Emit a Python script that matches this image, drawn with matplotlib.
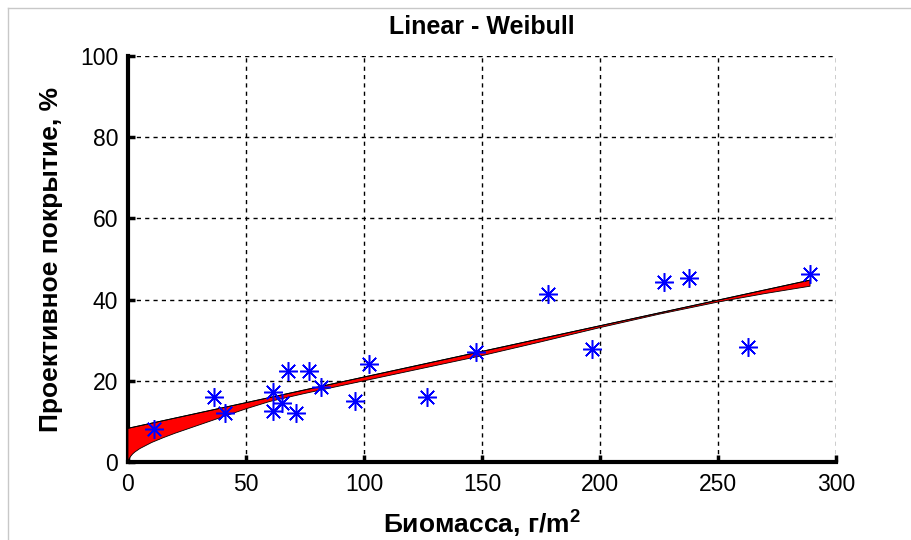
import matplotlib
matplotlib.use("Agg")
import matplotlib.pyplot as plt
from matplotlib.lines import Line2D

plt.rcParams['font.family'] = ['Liberation Sans', 'DejaVu Sans']
plt.rcParams['mathtext.fontset'] = 'custom'
plt.rcParams['mathtext.bf'] = 'Liberation Sans:bold'
plt.rcParams['mathtext.rm'] = 'Liberation Sans'

# observed data
biomass = [11.2, 36.6, 41.2, 61.6, 61.6, 65.1, 67.9, 71.0, 76.7, 81.8,
           96.2, 102.1, 126.6, 147.5, 178.1, 196.6, 227.0, 237.7, 262.7, 289.0]
cover = [8.1, 16.1, 12.1, 17.3, 12.6, 14.6, 22.4, 12.0, 22.4, 18.4,
         15.0, 24.2, 16.1, 27.2, 41.5, 27.8, 44.4, 45.2, 28.3, 46.3]

# linear fit (end points)
lin_x = [0, 289]
lin_y = [8.3, 44.8]

# Weibull fit curve
weib_x = [0, 0.5, 1, 2, 3, 5, 7, 10, 15, 20, 25, 30, 40, 50, 60, 75, 100, 125, 150,
          175, 200, 225, 250, 270, 289]
weib_y = [0.0, 0.8, 1.3, 2.0, 2.5, 3.3, 3.9, 4.8, 6.0, 7.1, 8.1, 9.1, 11.1, 13.1, 14.9, 16.9,
          20.0, 23.1, 26.2, 29.6, 33.1, 36.4, 39.4, 41.5, 43.3]

xticks = [0, 50, 100, 150, 200, 250, 300]
yticks = [0, 20, 40, 60, 80, 100]

fig = plt.figure(figsize=(9.11, 5.40), dpi=100)
fig.patch.set_facecolor('white')
ax = fig.add_axes([128/911, 78/540, (836-128)/911, (462-56)/540])

# red band between linear and Weibull
lin_at_w = [lin_y[0] + (lin_y[1]-lin_y[0]) * (xv - lin_x[0]) / (lin_x[1]-lin_x[0]) for xv in weib_x]
poly_x = list(weib_x) + list(weib_x[::-1])
poly_y = list(lin_at_w) + list(weib_y[::-1])
ax.fill(poly_x, poly_y, facecolor='#ff0000', edgecolor='black', linewidth=0.6, zorder=3)
ax.plot(lin_x, lin_y, color='black', linewidth=0.7, zorder=4)

ax.plot(biomass, cover, linestyle='none', marker=(8, 2, 0), markersize=13.5,
        markeredgewidth=1.1, color='#0000ff', zorder=5)

ax.set_xlim(0, 300)
ax.set_ylim(0, 100)
ax.set_xticks(xticks)
ax.set_yticks(yticks)
ax.grid(True, color='black', linestyle=(0, (3, 3)), linewidth=1.0)
ax.set_axisbelow(True)
for s in ['top', 'right']:
    ax.spines[s].set_visible(False)
for s in ['left', 'bottom']:
    ax.spines[s].set_linewidth(3)
    ax.spines[s].set_color('black')
ax.tick_params(direction='in', length=5, width=2.5, labelsize=16.5, colors='black')
ax.tick_params(axis='x', pad=8)
ax.tick_params(axis='y', pad=7)

ax.set_title('Linear - Weibull', fontsize=18, fontweight='bold', pad=16)
ax.set_xlabel(r'Биомасса, г/m$^\mathbf{2}$', fontsize=19, fontweight='bold', labelpad=8)
ax.set_ylabel('Проективное покрытие, %', fontsize=19, fontweight='bold', labelpad=12)

# screenshot frame
fig.add_artist(Line2D([8/911, 8/911], [0, 1 - 8/540], transform=fig.transFigure, color='#c8c8c8', linewidth=1))
fig.add_artist(Line2D([8/911, 1], [1 - 8/540, 1 - 8/540], transform=fig.transFigure, color='#c8c8c8', linewidth=1))

fig.savefig('out.png', dpi=100, facecolor='white')
